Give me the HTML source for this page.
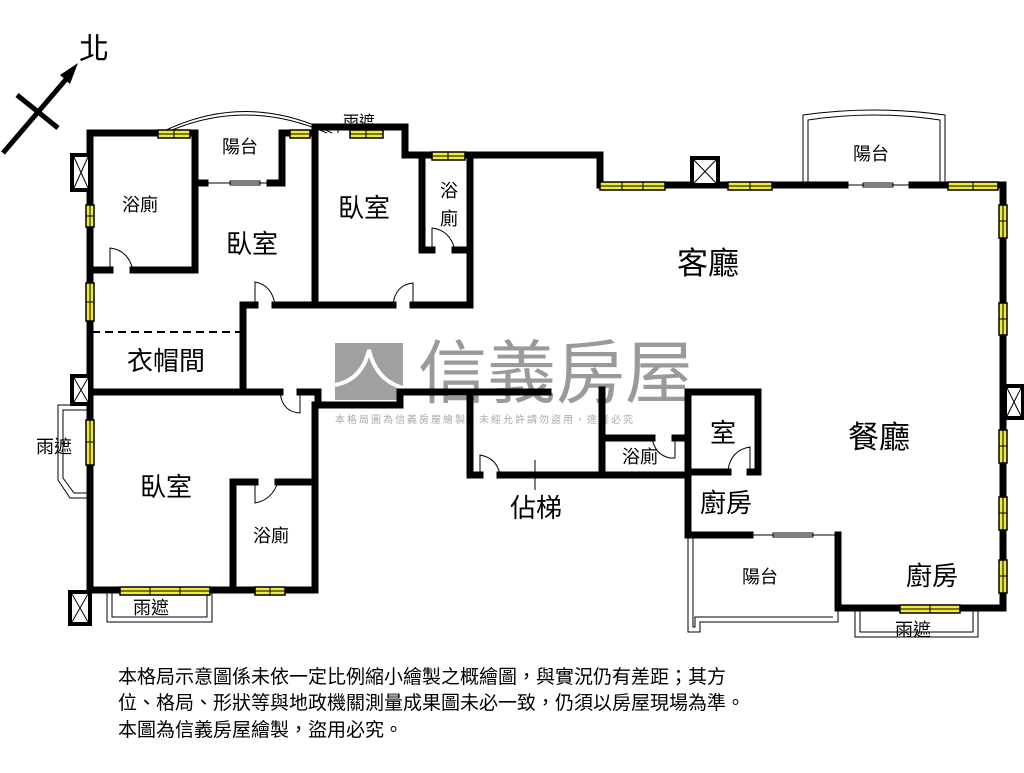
<!DOCTYPE html>
<html><head><meta charset="utf-8"><style>
body{margin:0;background:#fff;width:1024px;height:768px;overflow:hidden}
svg text{font-family:"Liberation Sans","Noto Sans CJK TC",sans-serif}
</style></head><body>
<svg width="1024" height="768" viewBox="0 0 1024 768" xmlns="http://www.w3.org/2000/svg">
<!-- watermark -->
<rect x="335" y="343" width="68" height="57" fill="#a0a0a0"/>
<path d="M335 385 Q362 380 369 350 Q376 380 403 388" stroke="#fff" stroke-width="4" fill="none"/>
<text x="418" y="397" font-size="69" fill="#9a9a9a">信義房屋</text>
<text x="335" y="423" font-size="10" fill="#aaa" letter-spacing="2">本格局圖為信義房屋繪製，未經允許請勿盜用，違者必究</text>
<!-- compass -->
<g stroke="#000" stroke-width="5" fill="none">
<line x1="3" y1="153" x2="68" y2="77"/><line x1="17" y1="95" x2="58" y2="128"/></g>
<polygon points="78,63 60,75 70,84" fill="#000"/>
<text x="79" y="59" font-size="30">北</text>
<!-- thin outlines -->
<g stroke="#000" stroke-width="1" fill="none">
<path d="M160 133 Q245 90 332 133"/><path d="M165 133 Q245 97 327 133"/>
<path d="M803 185 V115 Q874 105 945 115 V185"/><path d="M808 185 V120 Q874 110 940 120 V185"/>
<path d="M90 405 H58 V480 L70 498 H90"/><path d="M90 410 H63 V478 L74 493 H90"/>
<path d="M107 590 V622 H212 V590"/><path d="M112 590 V617 H207 V590"/>
<path d="M855 608 V637 H978 V608"/><path d="M860 608 V632 H973 V608"/>
<path d="M688 535 V632 H700 V622 H838 V608"/><path d="M693 535 V627 H695 V617 H833"/>
<path d="M338 133 V125 H405"/>
<line x1="195" y1="183" x2="282" y2="183"/><rect x="230" y="181" width="30" height="4"/>
<line x1="845" y1="185" x2="912" y2="185"/><rect x="863" y="183" width="30" height="4"/>
<line x1="750" y1="535" x2="838" y2="535"/><rect x="773" y="533" width="40" height="4"/>
<line x1="535" y1="460" x2="535" y2="490"/>
<path d="M110 270 V248 Q128 250 133 270"/><path d="M255 305 V282 Q272 285 275 305"/>
<path d="M393 305 Q395 285 413 283 V305"/><path d="M432 250 V228 Q450 230 455 250"/>
<path d="M280 392 Q282 412 300 413 V392"/><path d="M255 482 V503 Q272 500 278 482"/>
<path d="M480 475 V455 Q497 458 500 475"/><path d="M652 438 Q655 455 670 458 H675 V438"/>
<path d="M728 470 Q731 450 750 447 V470"/>
</g>
<!-- walls -->
<g stroke="#000" stroke-width="7" fill="none" stroke-linecap="square">
<path d="M90 133 V590 H315 V405 H318"/>
<path d="M90 133 H195 V270 H133"/><path d="M90 270 H110"/>
<path d="M195 183 H205"/><path d="M270 183 H282 V133 H315 V305"/>
<path d="M315 127 H405 V155 H470 V305 H413"/><path d="M393 305 H275"/><path d="M255 305 H243 V390"/>
<path d="M422 155 V250 H432"/><path d="M455 250 H470"/>
<path d="M90 392 H280"/><path d="M300 392 H318 V405 H400 V392 H548"/>
<path d="M470 155 H600 V185 H845"/><path d="M912 185 H1003 V608 H838 V535"/>
<path d="M750 535 H688 V392 H758 V472 H750"/><path d="M728 472 H688"/>
<path d="M470 393 V475 H480"/><path d="M500 475 H688"/>
<path d="M602 390 V475"/><path d="M602 438 H652"/><path d="M675 438 H688"/>
<path d="M233 590 V482 H255"/><path d="M278 482 H315"/>
</g>
<line x1="92" y1="332" x2="240" y2="332" stroke="#000" stroke-width="2" stroke-dasharray="8,5"/>
<!-- boxes -->
<g fill="#fff" stroke="#000" stroke-width="4">
<rect x="72" y="155" width="18" height="35"/><rect x="72" y="376" width="18" height="28"/>
<rect x="70" y="592" width="20" height="32"/><rect x="692" y="158" width="26" height="27"/>
<rect x="1005" y="386" width="18" height="32"/></g>
<g stroke="#000" stroke-width="1">
<path d="M74 157 L88 188 M88 157 L74 188"/><path d="M74 378 L88 402 M88 378 L74 402"/>
<path d="M72 594 L88 622 M88 594 L72 622"/><path d="M694 160 L716 183 M716 160 L694 183"/>
<path d="M1007 388 L1021 416 M1021 388 L1007 416"/></g>
<!-- windows -->
<g fill="#f2ea3a" stroke="#000" stroke-width="1.5">
<rect x="158" y="130" width="32" height="8"/><rect x="290" y="130" width="20" height="8"/>
<rect x="350" y="130" width="33" height="8"/><rect x="432" y="152" width="33" height="8"/>
<rect x="600" y="182" width="65" height="8"/><rect x="728" y="182" width="44" height="8"/>
<rect x="948" y="182" width="50" height="8"/><rect x="900" y="605" width="60" height="8"/>
<rect x="120" y="587" width="90" height="8"/><rect x="255" y="587" width="30" height="8"/>
<rect x="86" y="205" width="8" height="22"/><rect x="86" y="283" width="8" height="38"/>
<rect x="86" y="420" width="8" height="45"/>
<rect x="999" y="205" width="8" height="33"/><rect x="999" y="303" width="8" height="32"/>
<rect x="999" y="430" width="8" height="33"/><rect x="999" y="497" width="8" height="33"/>
<rect x="999" y="560" width="8" height="33"/></g>
<g stroke="#000" stroke-width="1">
<path d="M158 134 H190 M174 130 V138 M600 186 H665 M622 182 V190 M643 182 V190 M728 186 H772 M750 182 V190 M948 186 H998 M973 182 V190 M900 609 H960 M930 605 V613 M120 591 H210 M150 587 V595 M180 587 V595 M255 591 H285 M270 587 V595 M350 134 H383 M366 130 V138 M432 156 H465 M448 152 V160 M290 134 H310"/>
<path d="M90 205 V227 M86 216 H94 M90 283 V321 M86 302 H94 M90 420 V465 M86 442 H94 M1003 205 V238 M999 221 H1007 M1003 303 V335 M999 319 H1007 M1003 430 V463 M999 446 H1007 M1003 497 V530 M999 513 H1007 M1003 560 V593 M999 576 H1007"/>
</g>
<!-- labels -->
<g font-size="18" fill="#000">
<text x="122" y="211">浴廁</text><text x="222" y="153">陽台</text><text x="343" y="127" font-size="16">雨遮</text>
<text x="440" y="197">浴</text><text x="440" y="225">廁</text>
<text x="853" y="160">陽台</text><text x="742" y="583">陽台</text>
<text x="253" y="542">浴廁</text><text x="622" y="463">浴廁</text>
<text x="36" y="453">雨遮</text><text x="133" y="614">雨遮</text><text x="895" y="636">雨遮</text>
</g>
<g font-size="26" fill="#000">
<text x="226" y="253">臥室</text><text x="338" y="217">臥室</text><text x="127" y="370">衣帽間</text>
<text x="140" y="496">臥室</text><text x="677" y="274" font-size="31">客廳</text>
<text x="848" y="448" font-size="31">餐廳</text><text x="710" y="442">室</text>
<text x="700" y="512">廚房</text><text x="510" y="517">佔梯</text><text x="906" y="585">廚房</text>
</g>
<g font-size="19" fill="#000">
<text x="118" y="683">本格局示意圖係未依一定比例縮小繪製之概繪圖，與實況仍有差距；其方</text>
<text x="118" y="709">位、格局、形狀等與地政機關測量成果圖未必一致，仍須以房屋現場為準。</text>
<text x="118" y="736">本圖為信義房屋繪製，盜用必究。</text>
</g>
</svg>
</body></html>
